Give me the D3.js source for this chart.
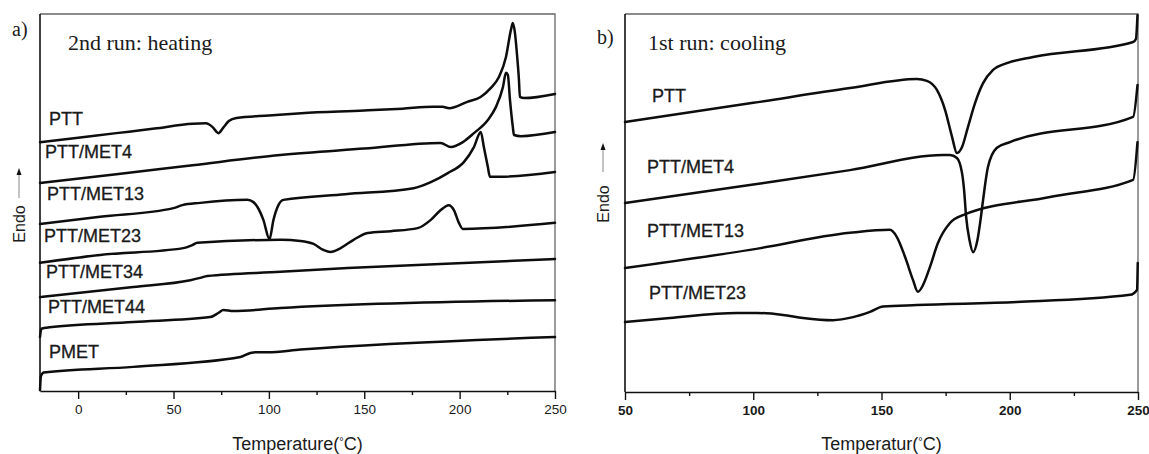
<!DOCTYPE html>
<html>
<head>
<meta charset="utf-8">
<script src="https://cdn.jsdelivr.net/npm/d3@7"></script>
<style>
  html, body { margin: 0; padding: 0; background: #fff; }
  svg { display: block; }
  text { font-family: "Liberation Sans", Arial, sans-serif; fill: #1a1a1a; }
  .serif { font-family: "Liberation Serif", "Times New Roman", serif; }
</style>
</head>
<body>
<svg id="chart" width="1149" height="454"></svg>
<script>
// ---------------- DATA ----------------
// Panel a: 2nd run heating; [temperature °C, heat flow (a.u., shifted)]
const heatingNames = ["PTT", "PTT/MET4", "PTT/MET13", "PTT/MET23", "PTT/MET34", "PTT/MET44", "PMET"];
const heatPTT = [[-20,66.0],[0,67.2],[20,68.4],[40,69.6],[60,70.9],[67,71.0],[70.5,70.0],[73.5,68.4],[76,69.8],[79,71.6],[83,72.4],[100,73.1],[117,73.7],[150,74.4],[170,74.9],[186,75.4],[191,75.4],[194.5,75.0],[204,76.7],[211,78.0],[216.4,80.4],[220.6,83.3],[224.3,88.6],[226.9,95.8],[227.9,97.6],[229,95.0],[230,89.7],[231.1,82.5],[231.6,78.0],[233.7,77.7],[250,78.8]];
const heatMET4 = [[-20,55.2],[20,57.5],[60,59.9],[106,62.6],[150,64.3],[190,65.8],[195.4,64.7],[201.7,66.0],[207.5,68.4],[214.8,71.9],[219,75.3],[222.7,80.6],[224.3,84.4],[225.3,83.8],[226.4,77.2],[227.9,70.0],[228.5,67.9],[232.1,67.6],[250,68.7]];
const heatMET13 = [[-20,44.3],[11.5,46.2],[50,48.5],[54.6,49.3],[64,49.9],[88.7,50.7],[91.9,50.1],[94,48.8],[97.1,45.4],[100.3,40.3],[102.4,45.4],[105,49.3],[107.6,50.7],[140,52.2],[175.9,53.8],[184.9,55.4],[193.8,57.8],[202.2,60.7],[207.5,64.7],[211.1,68.7],[212.7,64.7],[214.8,59.4],[215.9,56.8],[220.1,56.8],[250,58.1]];
const heatMET23 = [[-20,34.0],[11.5,36.1],[55.1,37.9],[59.8,38.7],[62.5,39.3],[106.1,40.1],[116.6,39.8],[123.4,39.0],[128.7,37.4],[132.3,36.9],[137.6,37.9],[144.4,40.1],[151.8,41.9],[163.9,42.4],[178,43.2],[184.9,45.4],[190.1,48.0],[194.3,49.3],[197,48.0],[199.6,44.6],[201.7,43.0],[250,44.6]];
const heatMET34 = [[-20,24.9],[28.9,27.6],[58.8,29.4],[64,30.0],[67.7,30.5],[106.1,31.6],[141.3,32.6],[250,35.0]];
const heatMET44 = [[-20,14.3],[-19.3,16.5],[-15,16.9],[28.9,18.3],[69.3,19.6],[73.5,20.7],[76.1,21.5],[81.4,21.2],[106.1,22.0],[250,24.1]];
const heatPMET = [[-20,0.2],[-19.5,4.0],[-18,4.9],[28.9,6.4],[85.1,9.0],[90.3,10.1],[94,10.3],[99.2,10.3],[116.6,11.0],[250,14.3]];
const heatingSeries = [heatPTT, heatMET4, heatMET13, heatMET23, heatMET34, heatMET44, heatPMET];

// Panel b: 1st run cooling
const coolingNames = ["PTT", "PTT/MET4", "PTT/MET13", "PTT/MET23"];
const coolPTT = [[50,71.4],[100,76.5],[137.7,80.4],[163.8,82.8],[167.7,82.3],[171.6,79.9],[174.8,74.6],[177.5,67.5],[179.4,63.2],[181.4,64.8],[183.7,70.1],[186.5,76.5],[189.6,81.7],[193.5,85.2],[198.9,87.0],[209.1,88.6],[248.1,92.6],[249.2,93.4],[249.8,99.7]];
const coolMET4 = [[50,50.0],[100,54.9],[137.7,58.7],[174,62.7],[176.7,62.7],[179.4,61.9],[181.4,57.9],[182.2,53.4],[183,46.3],[184.3,40.2],[185.7,37.0],[187.4,40.2],[188.6,45.5],[189.6,50.8],[191.5,59.5],[195,64.6],[200.1,66.1],[248.1,72.8],[249.8,81.2]];
const coolMET13 = [[50,32.8],[98.7,37.6],[137.7,42.1],[153.3,42.9],[156,41.0],[159.2,35.7],[162.3,29.6],[164.2,26.5],[166.2,28.3],[168.9,33.1],[172,39.4],[176.7,44.7],[181.8,46.8],[215.7,51.6],[248.1,56.1],[249.8,66.1]];
const coolMET23 = [[50,18.5],[67.5,19.6],[93.7,20.9],[101.5,20.9],[111.6,20.4],[119.4,19.6],[131.1,19.0],[138.9,19.8],[145.5,21.2],[150.6,22.6],[163.8,23.0],[202.8,23.8],[246.9,25.7],[249.6,27.0],[249.9,34.1]];
const coolingSeries = [coolPTT, coolMET4, coolMET13, coolMET23];

const ticksA = [0, 50, 100, 150, 200, 250];
const minorA = [25, 75, 125, 175, 225];
const ticksB = [50, 100, 150, 200, 250];
const minorB = [75, 125, 175, 225];

// ---------------- LAYOUT ----------------
const svg = d3.select("#chart");

function panel(cfg) {
  const g = svg.append("g");
  const x = d3.scaleLinear().domain(cfg.xDomain).range([cfg.left, cfg.right]);
  const y = d3.scaleLinear().domain([0, 100]).range([cfg.bottom, cfg.top]);

  // frame top/right (grey)
  g.append("path")
    .attr("d", `M${cfg.left},${cfg.top}H${cfg.right}V${cfg.bottom}`)
    .attr("fill", "none").attr("stroke", "#666").attr("stroke-width", 1.3);

  // minor ticks
  const minorAxis = d3.axisBottom(x).tickValues(cfg.minor).tickSize(4).tickSizeOuter(0).tickFormat("");
  const gm = g.append("g").attr("transform", `translate(0,${cfg.bottom})`).call(minorAxis);
  gm.select(".domain").remove();
  gm.selectAll("line").attr("stroke", "#111").attr("stroke-width", 1.4);

  // major axis
  const axis = d3.axisBottom(x).tickValues(cfg.ticks).tickSize(8).tickSizeOuter(0).tickPadding(5);
  const ga = g.append("g").attr("transform", `translate(0,${cfg.bottom})`).call(axis);
  ga.select(".domain").attr("stroke", "#111").attr("stroke-width", 1.6);
  ga.selectAll("line").attr("stroke", "#111").attr("stroke-width", 1.4);
  ga.selectAll("text")
    .style("font-family", '"Liberation Sans", Arial, sans-serif')
    .style("font-size", "13.5px")
    .style("font-weight", cfg.boldTicks ? "bold" : "normal")
    .attr("fill", "#1a1a1a");

  // left axis line
  g.append("line").attr("x1", cfg.left).attr("x2", cfg.left)
    .attr("y1", cfg.top).attr("y2", cfg.bottom)
    .attr("stroke", "#111").attr("stroke-width", 1.6);

  // curves
  const line = d3.line()
    .x(d => x(d[0])).y(d => y(d[1]))
    .curve(d3.curveMonotoneX);
  g.selectAll("path.curve").data(cfg.series).enter().append("path")
    .attr("class", "curve")
    .attr("d", line)
    .attr("fill", "none").attr("stroke", "#0d0d0d")
    .attr("stroke-width", 2.5).attr("stroke-linejoin", "round").attr("stroke-linecap", "round");

  // series labels
  g.selectAll("text.lab").data(cfg.names).enter().append("text")
    .attr("class", "lab")
    .attr("x", (d, i) => cfg.labelPos[i][0])
    .attr("y", (d, i) => cfg.labelPos[i][1])
    .style("font-size", "18px")
    .attr("stroke", "#1a1a1a").attr("stroke-width", 0.3)
    .text(d => d);

  // panel letter & title
  g.append("text").attr("class", "serif").attr("x", cfg.letterPos[0]).attr("y", cfg.letterPos[1])
    .style("font-size", "20px").text(cfg.letter);
  g.append("text").attr("class", "serif").attr("x", cfg.titlePos[0]).attr("y", cfg.titlePos[1])
    .style("font-size", "22px").text(cfg.title);

  // x axis title
  const xt = g.append("text").attr("x", (cfg.left + cfg.right) / 2).attr("y", 450)
    .attr("text-anchor", "middle").style("font-size", "18px");
  xt.append("tspan").text(cfg.xTitle);
  xt.append("tspan").attr("dy", -5).style("font-size", "11px").text("°");
  xt.append("tspan").attr("dy", 5).text("C)");

  // Endo label with arrow
  g.append("text")
    .attr("transform", `translate(${cfg.endoX + 6},${cfg.endoY}) rotate(-90)`)
    .attr("text-anchor", "middle")
    .style("font-size", "16px").text("Endo");
  g.append("line").attr("x1", cfg.endoX).attr("x2", cfg.endoX)
    .attr("y1", cfg.arrowY[1]).attr("y2", cfg.arrowY[0] + 6)
    .attr("stroke", "#888").attr("stroke-width", 1);
  g.append("path")
    .attr("d", `M${cfg.endoX},${cfg.arrowY[0]}l-2.5,7h5z`)
    .attr("fill", "#111");
}

panel({
  xDomain: [-20, 250], left: 40, right: 555, top: 14, bottom: 391,
  ticks: ticksA, minor: minorA, boldTicks: false,
  series: heatingSeries, names: heatingNames,
  labelPos: [[49,125],[45,158],[47,200],[44,242],[46,278],[48,313],[49,358]],
  letter: "a)", letterPos: [12, 36],
  title: "2nd run: heating", titlePos: [68, 50],
  xTitle: "Temperature(",
  endoX: 19, endoY: 224, arrowY: [168, 198]
});

panel({
  xDomain: [50, 250], left: 625, right: 1138, top: 14, bottom: 392,
  ticks: ticksB, minor: minorB, boldTicks: true,
  series: coolingSeries, names: coolingNames,
  labelPos: [[652,102],[647,173],[647,237],[649,299]],
  letter: "b)", letterPos: [597, 44],
  title: "1st run: cooling", titlePos: [648, 50],
  xTitle: "Temperatur(",
  endoX: 603, endoY: 204, arrowY: [143, 172]
});
</script>
</body>
</html>
